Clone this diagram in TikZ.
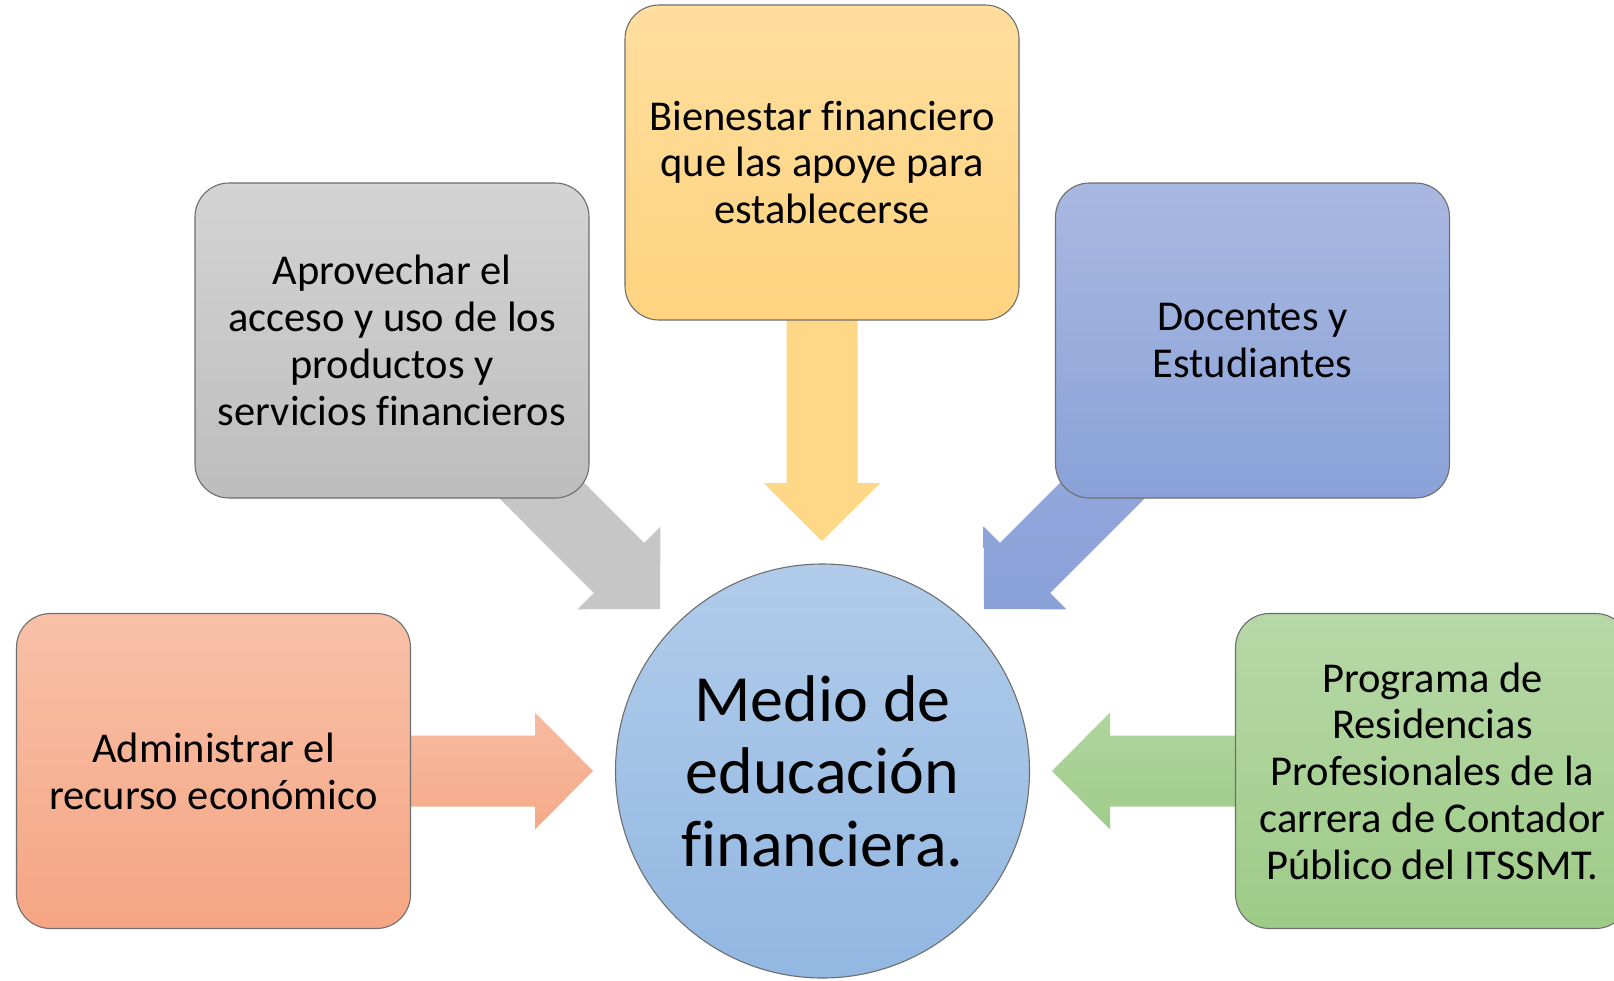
\documentclass[tikz,border=0pt]{standalone}
\usepackage{fontspec}
\setmainfont{Carlito}[Ligatures=NoCommon]
\usetikzlibrary{calc,backgrounds}
\definecolor{ytop}{HTML}{FFDE9E}
\definecolor{ybot}{HTML}{FFD37F}
\definecolor{yarr}{HTML}{FFD887}
\definecolor{gtop}{HTML}{D4D4D4}
\definecolor{gbot}{HTML}{BDBDBD}
\definecolor{garr}{HTML}{C6C6C6}
\definecolor{btop}{HTML}{A9B8E1}
\definecolor{bbot}{HTML}{8AA2D8}
\definecolor{barrtop}{HTML}{9CADDE}
\definecolor{barrbot}{HTML}{8AA1D8}
\definecolor{otop}{HTML}{F7C1A8}
\definecolor{obot}{HTML}{F6A583}
\definecolor{oarrtop}{HTML}{F6BBA0}
\definecolor{oarrbot}{HTML}{F5AA88}
\definecolor{ntop}{HTML}{B7D8A7}
\definecolor{nbot}{HTML}{9ECB87}
\definecolor{narrtop}{HTML}{B0D59E}
\definecolor{narrbot}{HTML}{A0CC8A}
\definecolor{ctop}{HTML}{B1CCEA}
\definecolor{cbot}{HTML}{92B7E2}
\definecolor{edge}{HTML}{6E6E6E}
\newcommand\fatarrow[3]{%
  \coordinate (fa-b) at ($(#2)!58pt!(#1)$);
  \path[#3] ($(#1)!35.5pt!90:(#2)$) -- ($(fa-b)!35.5pt!90:(#2)$)
    -- ($(fa-b)!58.5pt!90:(#2)$) -- (#2)
    -- ($(fa-b)!58.5pt!-90:(#2)$) -- ($(fa-b)!35.5pt!-90:(#2)$)
    -- ($(#1)!35.5pt!-90:(#2)$) -- cycle;}
\tikzset{
  card/.style={draw=edge, line width=1.1pt, rounded corners=34pt,
    minimum width=394pt, minimum height=315pt, align=center,
    font=\fontsize{42.5}{46.8}\selectfont, inner sep=0pt},
  hub/.style={circle, draw=edge, line width=1.1pt, minimum size=414pt,
    top color=ctop, bottom color=cbot, align=center, inner sep=0pt,
    font=\fontsize{66}{72.5}\selectfont}
}
\begin{document}
\begin{tikzpicture}[x=1pt,y=-1pt]
\useasboundingbox (0,0) rectangle (1614,980);
\node[card, top color=ytop, bottom color=ybot] (top) at (822,162.5)
  {Bienestar financiero\\que las apoye para\\establecerse};
\node[card, top color=gtop, bottom color=gbot] (grey) at (392,340.5)
  {Aprovechar el\\acceso y uso de los\\productos y\\servicios financieros};
\node[card, top color=btop, bottom color=bbot] (blue) at (1252.5,340.5)
  {Docentes y\\Estudiantes};
\node[card, top color=otop, bottom color=obot] (orange) at (213.5,771)
  {Administrar el\\recurso económico};
\node[card, top color=ntop, bottom color=nbot] (green) at (1432.5,771)
  {Programa de\\Residencias\\Profesionales de la\\carrera de Contador\\Público del ITSSMT.};
\node[hub] (hub) at (822.5,771) {Medio de\\educación\\financiera.};
\coordinate (tipT) at (822,541);
\coordinate (tipG) at (660,609);
\coordinate (tipB) at (984,609);
\coordinate (tipO) at (593,771);
\coordinate (tipN) at (1052,771);
\begin{scope}[on background layer]
  \fill[white] (0,0) rectangle (1614,980);
  \fatarrow{top}{tipT}{fill=yarr}
  \fatarrow{grey}{tipG}{fill=garr}
  \fatarrow{blue}{tipB}{top color=barrtop, bottom color=barrbot}
  \fatarrow{orange}{tipO}{top color=oarrtop, bottom color=oarrbot}
  \fatarrow{green}{tipN}{top color=narrtop, bottom color=narrbot}
\end{scope}
\end{tikzpicture}
\end{document}
